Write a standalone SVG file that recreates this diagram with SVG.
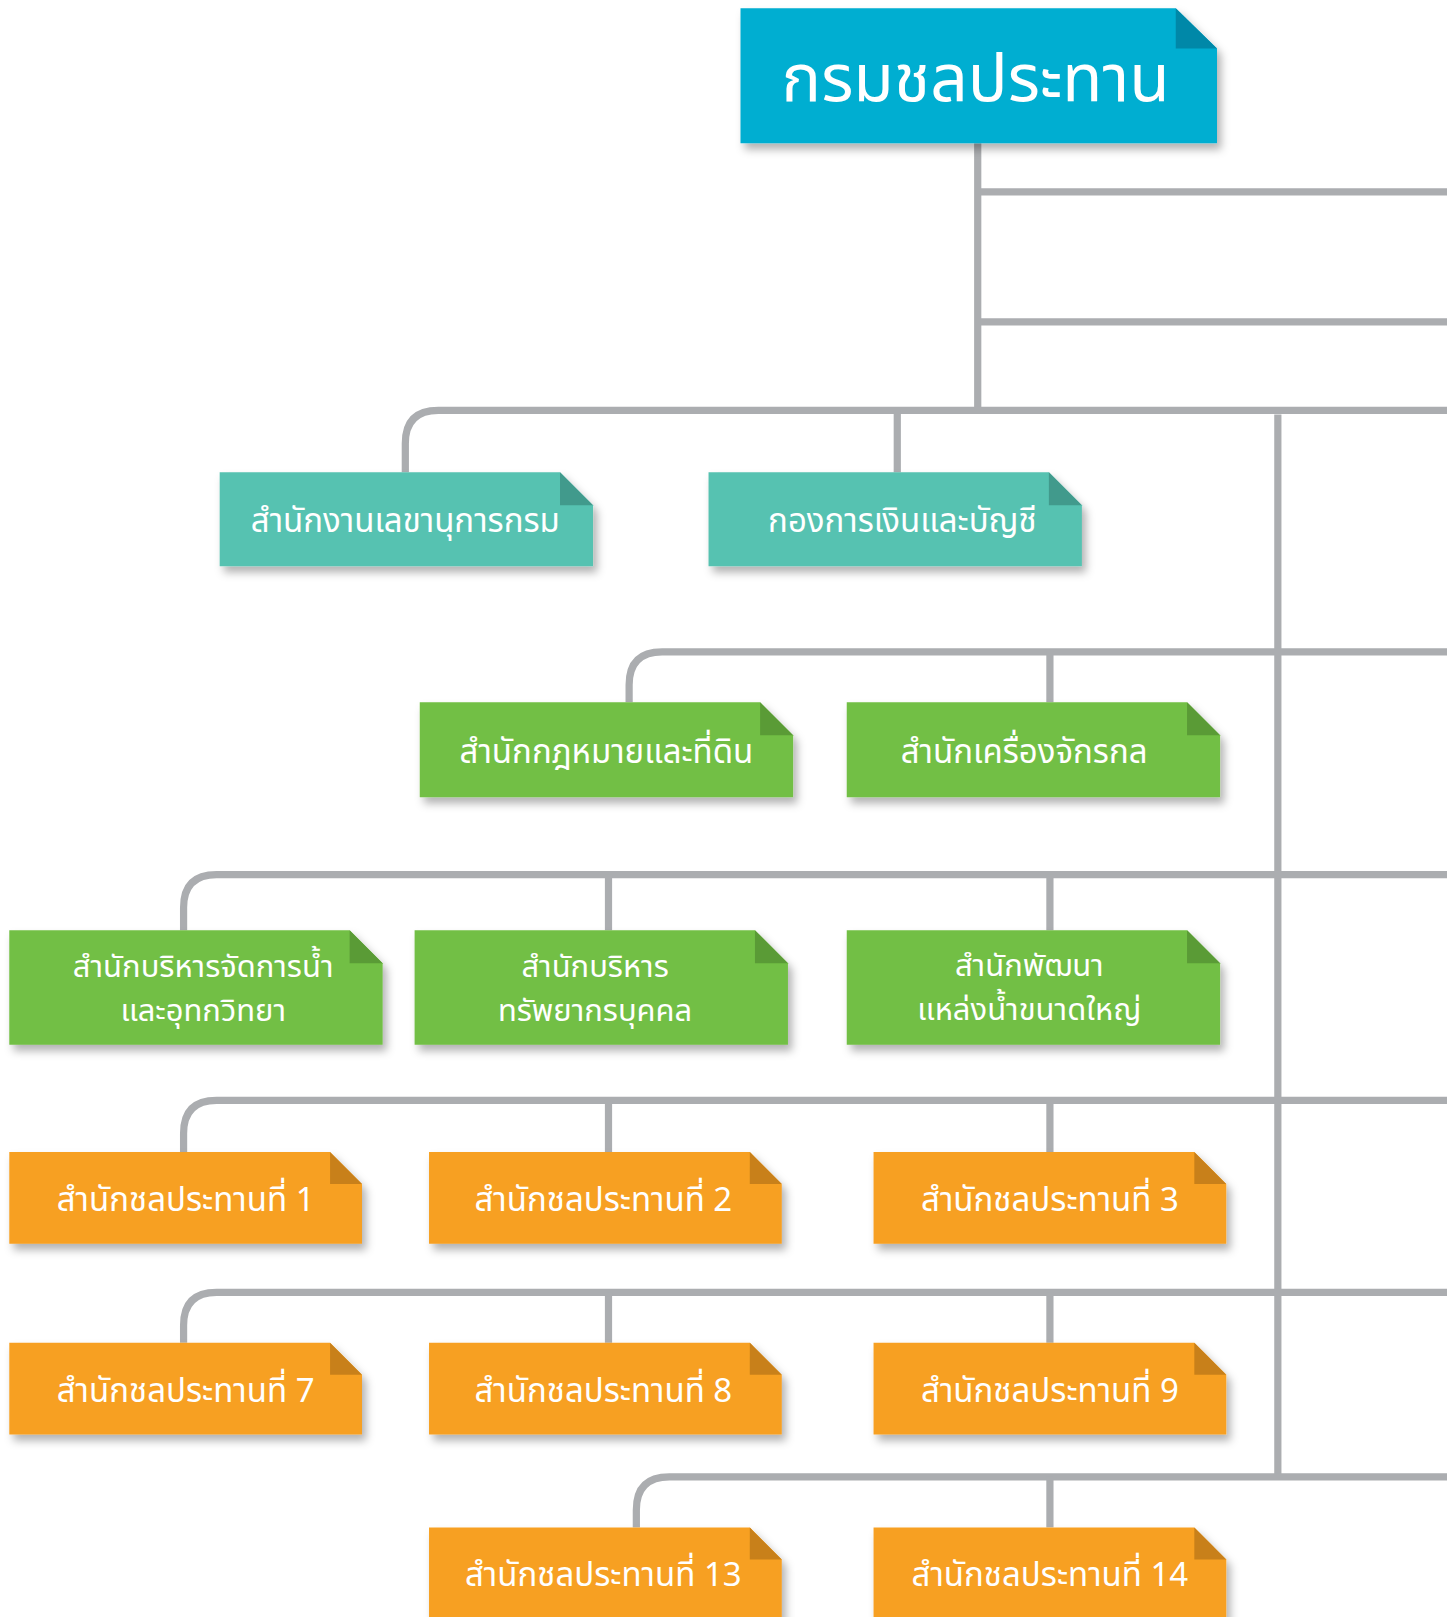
<svg xmlns="http://www.w3.org/2000/svg" width="1447" height="1617" viewBox="0 0 1447 1617">
<defs>
<filter id="sh" x="-10%" y="-10%" width="125%" height="140%">
<feDropShadow dx="4" dy="6" stdDeviation="4" flood-color="#000" flood-opacity="0.3"/>
</filter>
<style>
.ln{fill:none;stroke:#abadb0;stroke-width:7;}
.t{fill:#fff;font-family:"Noto Sans Thai","Noto Sans","DejaVu Sans",sans-serif;text-anchor:middle;}
.s{font-size:32px;}
.d{font-size:30px;}
.teal{fill:#57c2b1}.tealf{fill:#419a8c}
.green{fill:#72bf44}.greenf{fill:#5a9b36}
.org{fill:#f7a020}.orgf{fill:#c8801a}
.blue{fill:#00aed1}.bluef{fill:#0088a8}
</style>
</defs>
<rect width="1447" height="1617" fill="#fff"/>
<g transform="scale(1.03135)">
<g id="connectors">
<path class="ln" d="M948 139 V398"/>
<path class="ln" d="M951 186 H1410"/>
<path class="ln" d="M951 312 H1410"/>
<path class="ln" d="M393 458 V430 Q393 398 425 398 H1410"/>
<path class="ln" d="M870 398 V458"/>
<path class="ln" d="M1239 402 V1432"/>
<path class="ln" d="M610 681 V664 Q610 632 642 632 H1410"/>
<path class="ln" d="M1018 632 V681"/>
<path class="ln" d="M178 902 V880 Q178 848 210 848 H1410"/>
<path class="ln" d="M590 848 V902"/>
<path class="ln" d="M1018 848 V902"/>
<path class="ln" d="M178 1117 V1099 Q178 1067 210 1067 H1410"/>
<path class="ln" d="M590 1067 V1117"/>
<path class="ln" d="M1018 1067 V1117"/>
<path class="ln" d="M178 1302 V1285 Q178 1253 210 1253 H1410"/>
<path class="ln" d="M590 1253 V1302"/>
<path class="ln" d="M1018 1253 V1302"/>
<path class="ln" d="M617 1481 V1464 Q617 1432 649 1432 H1410"/>
<path class="ln" d="M1018 1432 V1481"/>
</g>

<g id="n-main">
<path class="blue" filter="url(#sh)" d="M718 8 H1140 L1180 47 V139 H718 Z"/>
<path class="bluef" d="M1140 8 L1180 47 H1140 Z"/>
<text class="t" x="946" y="98" font-size="64">กรมชลประทาน</text>
</g>

<g id="n-sec">
<path class="teal" filter="url(#sh)" d="M213 458 H543 L575 490 V549 H213 Z"/>
<path class="tealf" d="M543 458 L575 490 H543 Z"/>
<text class="t s" x="393" y="516">สำนักงานเลขานุการกรม</text>
</g>
<g id="n-fin">
<path class="teal" filter="url(#sh)" d="M687 458 H1017 L1049 490 V549 H687 Z"/>
<path class="tealf" d="M1017 458 L1049 490 H1017 Z"/>
<text class="t s" x="875" y="516">กองการเงินและบัญชี</text>
</g>

<g id="n-law">
<path class="green" filter="url(#sh)" d="M407 681 H737 L769 713 V773 H407 Z"/>
<path class="greenf" d="M737 681 L769 713 H737 Z"/>
<text class="t s" x="588" y="740">สำนักกฎหมายและที่ดิน</text>
</g>
<g id="n-mach">
<path class="green" filter="url(#sh)" d="M821 681 H1151 L1183 713 V773 H821 Z"/>
<path class="greenf" d="M1151 681 L1183 713 H1151 Z"/>
<text class="t s" x="993" y="740">สำนักเครื่องจักรกล</text>
</g>
<g id="n-water">
<path class="green" filter="url(#sh)" d="M9 902 H339 L371 934 V1013 H9 Z"/>
<path class="greenf" d="M339 902 L371 934 H339 Z"/>
<text class="t d" x="197" y="947">สำนักบริหารจัดการน้ำ</text>
<text class="t d" x="197" y="990">และอุทกวิทยา</text>
</g>
<g id="n-hr">
<path class="green" filter="url(#sh)" d="M402 902 H732 L764 934 V1013 H402 Z"/>
<path class="greenf" d="M732 902 L764 934 H732 Z"/>
<text class="t d" x="577" y="947">สำนักบริหาร</text>
<text class="t d" x="577" y="990">ทรัพยากรบุคคล</text>
</g>
<g id="n-dev">
<path class="green" filter="url(#sh)" d="M821 902 H1151 L1183 934 V1013 H821 Z"/>
<path class="greenf" d="M1151 902 L1183 934 H1151 Z"/>
<text class="t d" x="998" y="946">สำนักพัฒนา</text>
<text class="t d" x="998" y="989">แหล่งน้ำขนาดใหญ่</text>
</g>

<g id="n-r1">
<path class="org" filter="url(#sh)" d="M9 1117 H320 L351 1148 V1206 H9 Z"/>
<path class="orgf" d="M320 1117 L351 1148 H320 Z"/>
<text class="t s" x="180" y="1174">สำนักชลประทานที่ 1</text>
</g>
<g id="n-r2">
<path class="org" filter="url(#sh)" d="M416 1117 H727 L758 1148 V1206 H416 Z"/>
<path class="orgf" d="M727 1117 L758 1148 H727 Z"/>
<text class="t s" x="585" y="1174">สำนักชลประทานที่ 2</text>
</g>
<g id="n-r3">
<path class="org" filter="url(#sh)" d="M847 1117 H1158 L1189 1148 V1206 H847 Z"/>
<path class="orgf" d="M1158 1117 L1189 1148 H1158 Z"/>
<text class="t s" x="1018" y="1174">สำนักชลประทานที่ 3</text>
</g>
<g id="n-r7">
<path class="org" filter="url(#sh)" d="M9 1302 H320 L351 1333 V1391 H9 Z"/>
<path class="orgf" d="M320 1302 L351 1333 H320 Z"/>
<text class="t s" x="180" y="1359">สำนักชลประทานที่ 7</text>
</g>
<g id="n-r8">
<path class="org" filter="url(#sh)" d="M416 1302 H727 L758 1333 V1391 H416 Z"/>
<path class="orgf" d="M727 1302 L758 1333 H727 Z"/>
<text class="t s" x="585" y="1359">สำนักชลประทานที่ 8</text>
</g>
<g id="n-r9">
<path class="org" filter="url(#sh)" d="M847 1302 H1158 L1189 1333 V1391 H847 Z"/>
<path class="orgf" d="M1158 1302 L1189 1333 H1158 Z"/>
<text class="t s" x="1018" y="1359">สำนักชลประทานที่ 9</text>
</g>
<g id="n-r13">
<path class="org" filter="url(#sh)" d="M416 1481 H727 L758 1512 V1580 H416 Z"/>
<path class="orgf" d="M727 1481 L758 1512 H727 Z"/>
<text class="t s" x="585" y="1538">สำนักชลประทานที่ 13</text>
</g>
<g id="n-r14">
<path class="org" filter="url(#sh)" d="M847 1481 H1158 L1189 1512 V1580 H847 Z"/>
<path class="orgf" d="M1158 1481 L1189 1512 H1158 Z"/>
<text class="t s" x="1018" y="1538">สำนักชลประทานที่ 14</text>
</g>
</g>
</svg>
